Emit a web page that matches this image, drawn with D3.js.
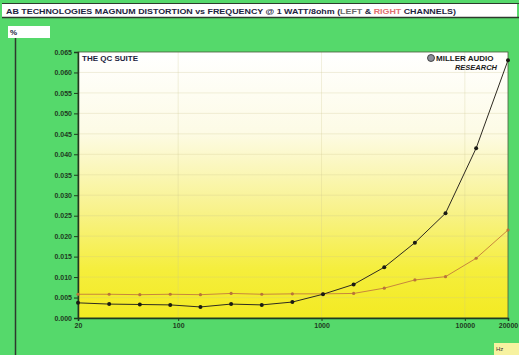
<!DOCTYPE html>
<html>
<head>
<meta charset="utf-8">
<script src="https://cdn.jsdelivr.net/npm/d3@7"></script>
<style>
  html, body { margin: 0; padding: 0; background: #fff; }
  svg { display: block; }
  text { font-family: "Liberation Sans", "DejaVu Sans", sans-serif; }
</style>
</head>
<body>
<svg id="chart" width="519" height="355"></svg>
<script>
// Measurement frequencies (Hz), log spaced from 20 Hz to 20 kHz
const frequencies = [20, 33, 54, 88, 143, 234, 383, 626, 1024, 1675, 2740, 4482, 7330, 11990, 20000];
// THD (%) at 1 W / 8 ohm
const leftChannel  = [0.0037, 0.0034, 0.0033, 0.0032, 0.0027, 0.0034, 0.0032, 0.0039, 0.0058, 0.0082, 0.0124, 0.0184, 0.0256, 0.0415, 0.0630];
const rightChannel = [0.0058, 0.0058, 0.0057, 0.0058, 0.0057, 0.0060, 0.0058, 0.0059, 0.0059, 0.0060, 0.0073, 0.0093, 0.0101, 0.0146, 0.0215];
// Axis ticks
const yTicks = [0, 0.005, 0.010, 0.015, 0.020, 0.025, 0.030, 0.035, 0.040, 0.045, 0.050, 0.055, 0.060, 0.065];
const xTicks = [20, 100, 1000, 10000, 20000];
const xTickLabels = ["20", "100", "1000", "10000", "20000"];

const svg = d3.select("#chart");
const W = 519, H = 355;
const plot = { left: 78, right: 508, top: 52, bottom: 318 };

const x = d3.scaleLog().domain([20, 20000]).range([plot.left, plot.right]);
const y = d3.scaleLinear().domain([0, 0.065]).range([plot.bottom, plot.top]);

const defs = svg.append("defs");
const grad = defs.append("linearGradient").attr("id", "plotFill")
  .attr("x1", 0).attr("y1", 0).attr("x2", 0).attr("y2", 1);
grad.append("stop").attr("offset", "0%").attr("stop-color", "#ffffff");
grad.append("stop").attr("offset", "30%").attr("stop-color", "#fdfbe6");
grad.append("stop").attr("offset", "60%").attr("stop-color", "#f8f289");
grad.append("stop").attr("offset", "82%").attr("stop-color", "#f5ee3c");
grad.append("stop").attr("offset", "100%").attr("stop-color", "#f3ea22");

// Green panel background
svg.append("rect").attr("x", 0).attr("y", 0).attr("width", W).attr("height", H).attr("fill", "#55d96b");

// Title strip
svg.append("rect").attr("x", 2).attr("y", 3).attr("width", W - 4).attr("height", 14)
  .attr("fill", "#ffffff");
svg.append("line").attr("x1", 2).attr("x2", W).attr("y1", 17.5).attr("y2", 17.5)
  .attr("stroke", "#2d3a2d").attr("stroke-width", 1.5);
svg.append("line").attr("x1", 2).attr("x2", W).attr("y1", 3.5).attr("y2", 3.5)
  .attr("stroke", "#2d3a2d").attr("stroke-width", 1);

const title = svg.append("text").attr("x", 6).attr("y", 13.5)
  .attr("font-size", 8).attr("font-weight", "bold").attr("fill", "#1c2340")
  .attr("textLength", 450).attr("lengthAdjust", "spacingAndGlyphs");
title.append("tspan").text("AB TECHNOLOGIES MAGNUM DISTORTION vs FREQUENCY @ 1 WATT/8ohm (");
title.append("tspan").attr("fill", "#6a6a6a").text("LEFT");
title.append("tspan").text(" & ");
title.append("tspan").attr("fill", "#e07070").text("RIGHT");
title.append("tspan").text(" CHANNELS)");

// Unit box
svg.append("rect").attr("x", 8).attr("y", 26).attr("width", 42).attr("height", 12).attr("fill", "#ffffff");
svg.append("text").attr("x", 10).attr("y", 35).attr("font-size", 8).attr("font-weight", "bold")
  .attr("fill", "#1c2340").text("%");

// Left frame line
svg.append("line").attr("x1", 15.5).attr("x2", 15.5).attr("y1", 38).attr("y2", H)
  .attr("stroke", "#2d3a2d").attr("stroke-width", 1.5);

// Plot area
svg.append("rect").attr("x", plot.left).attr("y", plot.top)
  .attr("width", plot.right - plot.left).attr("height", plot.bottom - plot.top)
  .attr("fill", "url(#plotFill)");

// Faint grid
const grid = svg.append("g").attr("stroke", "#c9c48a").attr("stroke-opacity", 0.45).attr("stroke-width", 0.6);
grid.selectAll("line.h").data(yTicks.slice(1, -1)).join("line")
  .attr("x1", plot.left).attr("x2", plot.right)
  .attr("y1", d => y(d)).attr("y2", d => y(d));
grid.selectAll("line.v").data([100, 1000, 10000]).join("line")
  .attr("y1", plot.top).attr("y2", plot.bottom)
  .attr("x1", d => x(d)).attr("x2", d => x(d));

// Plot border
svg.append("rect").attr("x", plot.left).attr("y", plot.top)
  .attr("width", plot.right - plot.left).attr("height", plot.bottom - plot.top)
  .attr("fill", "none").attr("stroke", "#4a5a3a").attr("stroke-width", 0.8);

// Y axis
const yAxis = d3.axisLeft(y).tickValues(yTicks).tickFormat(d3.format(".3f")).tickSize(4).tickPadding(2);
const gy = svg.append("g").attr("transform", `translate(${plot.left},0)`).call(yAxis);
gy.select(".domain").attr("stroke", "#1f3a1f").attr("stroke-width", 1.5);
gy.selectAll(".tick line").attr("stroke", "#1f3a1f");
gy.selectAll(".tick text").attr("font-size", 7).attr("font-weight", "bold").attr("fill", "#1f3a1f");

// X axis
const xAxis = d3.axisBottom(x).tickValues(xTicks).tickFormat((d, i) => xTickLabels[i]).tickSize(3).tickPadding(2);
const gx = svg.append("g").attr("transform", `translate(0,${plot.bottom})`).call(xAxis);
gx.select(".domain").attr("stroke", "#1f3a1f").attr("stroke-width", 1.5);
gx.selectAll(".tick line").attr("stroke", "#1f3a1f");
gx.selectAll(".tick text").attr("font-size", 7).attr("font-weight", "bold").attr("fill", "#1f3a1f");

// Series
const line = d3.line().x((d, i) => x(frequencies[i])).y(d => y(d));

svg.append("path").datum(rightChannel).attr("d", line)
  .attr("fill", "none").attr("stroke", "#c8873c").attr("stroke-width", 1);
svg.append("g").selectAll("circle").data(rightChannel).join("circle")
  .attr("cx", (d, i) => x(frequencies[i])).attr("cy", d => y(d)).attr("r", 1.6)
  .attr("fill", "#b9743a");

svg.append("path").datum(leftChannel).attr("d", line)
  .attr("fill", "none").attr("stroke", "#2e2a20").attr("stroke-width", 1);
svg.append("g").selectAll("circle").data(leftChannel).join("circle")
  .attr("cx", (d, i) => x(frequencies[i])).attr("cy", d => y(d)).attr("r", 2)
  .attr("fill", "#1a1a14");

// Labels inside the plot
svg.append("text").attr("x", 82).attr("y", 61).attr("font-size", 8).attr("font-weight", "bold")
  .attr("fill", "#1c2340").text("THE QC SUITE");

svg.append("circle").attr("cx", 431).attr("cy", 58).attr("r", 3.5)
  .attr("fill", "#8a8f9a").attr("stroke", "#2a2a2a").attr("stroke-width", 0.8);
svg.append("text").attr("x", 436).attr("y", 61).attr("font-size", 8).attr("font-weight", "bold")
  .attr("fill", "#1c1c1c").text("MILLER AUDIO");
svg.append("text").attr("x", 497).attr("y", 70).attr("text-anchor", "end")
  .attr("font-size", 7.5).attr("font-weight", "bold").attr("font-style", "italic")
  .attr("fill", "#1c1c1c").text("RESEARCH");

// Unit box for frequency
svg.append("rect").attr("x", 494).attr("y", 343).attr("width", 25).attr("height", 12).attr("fill", "#f7f2a0");
svg.append("text").attr("x", 496).attr("y", 351).attr("font-size", 6).attr("fill", "#333").text("Hz");
</script>
</body>
</html>
